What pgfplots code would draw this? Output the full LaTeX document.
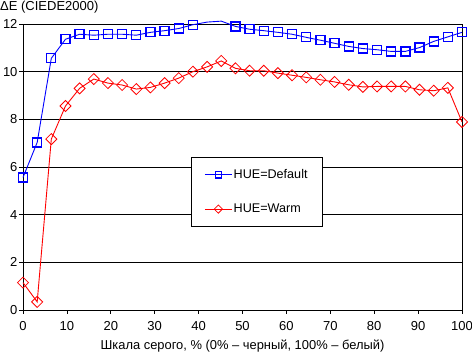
\documentclass[border=0pt]{standalone}
\usepackage{fontspec}
\setmainfont{Liberation Sans}
\usepackage{pgfplots}
\usetikzlibrary{calc}
\pgfplotsset{compat=1.18}
\begin{document}
\begin{tikzpicture}[font=\fontsize{13}{15}\selectfont]
\begin{axis}[
  name=ax,
  scale only axis,
  width=439pt, height=286pt,
  xmin=0, xmax=100, ymin=0, ymax=12,
  clip=false,
  xtick={0,10,...,100}, ytick={0,2,...,12},
  ymajorgrids, major grid style={black, line width=0.8pt},
  axis line style={black, line width=0.8pt},
  tick style={black, line width=0.8pt},
  tick align=outside, major tick length=4pt,
  xtick pos=bottom, ytick pos=left,
  /pgf/number format/assume math mode=true,
  ticklabel style={font=\fontsize{13}{15}\selectfont},
  xticklabel style={yshift=-4pt},
  yticklabel style={xshift=2pt},
  xlabel={Шкала серого, \% (0\% – черный, 100\% – белый)},
  xlabel style={at={(axis description cs:0.5,0)}, anchor=base, yshift=-40pt, inner sep=0pt, font=\fontsize{12.9}{15}\selectfont},
  legend style={at={(0.383,0.535)}, anchor=north west, draw=black, line width=0.8pt, fill=white,
    inner xsep=13pt, inner ysep=10.5pt, row sep=21pt, font=\fontsize{12.6}{15}\selectfont,
    nodes={inner sep=1.5pt}},
  legend cell align=left,
]
\addplot[blue, line width=0.9pt, mark=square, mark size=4.5pt, mark options={fill=white, solid, line width=1.3pt},
  mark indices={1,2,3,4,5,6,7,8,9,10,11,12,13,16,17,18,19,20,21,22,23,24,25,26,27,28,29,30,31,32},
  legend image code/.code={\draw[mark indices={2}, mark size=3.2pt] plot coordinates {(0cm,0cm) (0.47cm,0cm) (0.94cm,0cm)};}]
coordinates {
(0,5.56) (3.23,7.03) (6.45,10.56) (9.68,11.36) (12.90,11.57) (16.13,11.53) (19.35,11.57) (22.58,11.57)
(25.81,11.53) (29.03,11.65) (32.26,11.72) (35.48,11.81) (38.71,11.97) (41.94,12.08) (45.16,12.12) (48.39,11.90)
(51.61,11.78) (54.84,11.72) (58.06,11.65) (61.29,11.57) (64.52,11.44) (67.74,11.32) (70.97,11.19) (74.19,11.06)
(77.42,10.97) (80.65,10.92) (83.87,10.85) (87.10,10.85) (90.32,11.01) (93.55,11.27) (96.77,11.46) (100,11.65)
};
\addlegendentry{HUE=Default}
\addplot[red, line width=0.9pt, mark=square, mark size=3.9pt, mark options={rotate=45, fill=white, solid, line width=0.8pt},
  legend image code/.code={\draw[mark indices={2}, mark size=2.9pt] plot coordinates {(0cm,0cm) (0.47cm,0cm) (0.94cm,0cm)};}]
coordinates {
(0,1.15) (3.23,0.34) (6.45,7.17) (9.68,8.56) (12.90,9.30) (16.13,9.69) (19.35,9.52) (22.58,9.44)
(25.81,9.27) (29.03,9.34) (32.26,9.52) (35.48,9.73) (38.71,10.00) (41.94,10.20) (45.16,10.45) (48.39,10.14)
(51.61,10.04) (54.84,10.04) (58.06,9.94) (61.29,9.85) (64.52,9.76) (67.74,9.66) (70.97,9.57) (74.19,9.45)
(77.42,9.36) (80.65,9.38) (83.87,9.38) (87.10,9.38) (90.32,9.24) (93.55,9.20) (96.77,9.32) (100,7.89)
};
\addlegendentry{HUE=Warm}
\end{axis}
\node[anchor=base west, inner sep=0pt] at ($(ax.north west)+(-23pt,13pt)$) {ΔE (CIEDE2000)};
\pgfresetboundingbox
\path (ax.south west) ++(-23pt,-43pt) rectangle ($(ax.north east)+(10pt,24pt)$);
\end{tikzpicture}
\end{document}
